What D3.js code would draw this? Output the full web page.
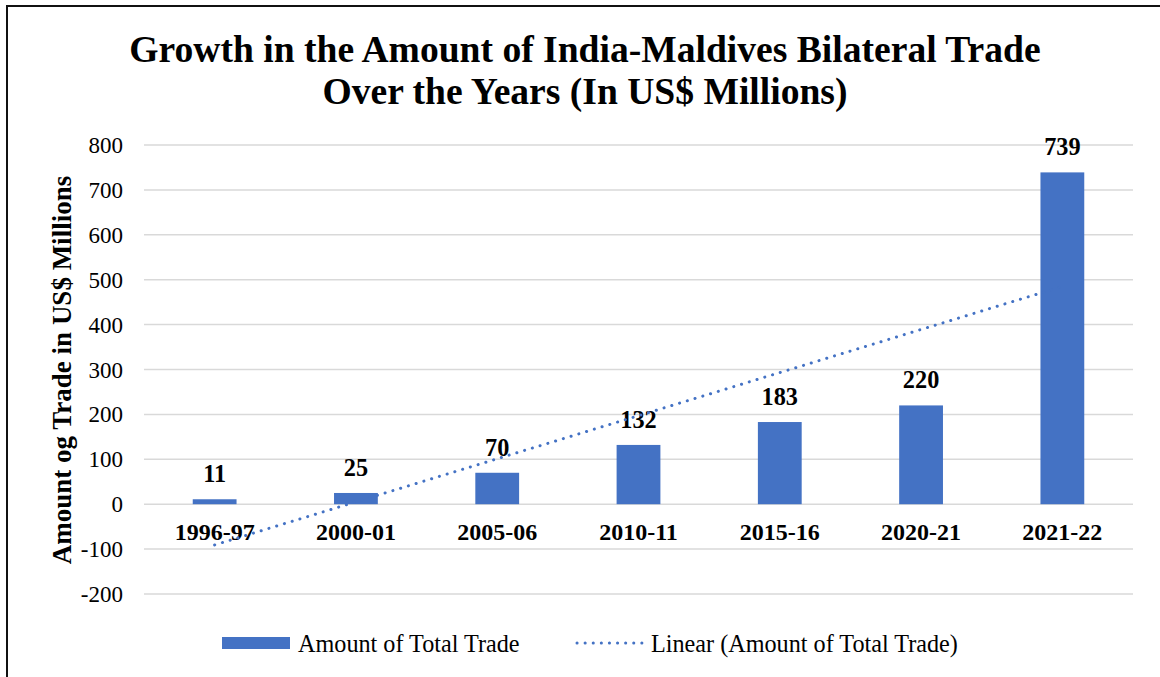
<!DOCTYPE html>
<html>
<head>
<meta charset="utf-8">
<script src="https://cdn.jsdelivr.net/npm/d3@7"></script>
<style>
  html, body { margin: 0; padding: 0; background: #fff; }
  svg { display: block; font-family: "Liberation Serif", "Times New Roman", serif; }
</style>
</head>
<body>
<svg id="chart" width="1160" height="677"></svg>
<script>
// Fiscal years and total India–Maldives trade (US$ millions)
const years = ["1996-97", "2000-01", "2005-06", "2010-11", "2015-16", "2020-21", "2021-22"];
const tradeValues = [11, 25, 70, 132, 183, 220, 739];
const yTicks = [-200, -100, 0, 100, 200, 300, 400, 500, 600, 700, 800];
const titleLines = ["Growth in the Amount of India-Maldives Bilateral Trade", "Over the Years (In US$ Millions)"];
const yAxisTitle = "Amount og Trade in US$ Millions";
const legendLabels = ["Amount of Total Trade", "Linear (Amount of Total Trade)"];

const BAR_COLOR = "#4472C4";
const svg = d3.select("#chart");

// Outer frame
svg.append("rect")
  .attr("x", 7).attr("y", 6).attr("width", 1200).attr("height", 700)
  .attr("fill", "none").attr("stroke", "#111").attr("stroke-width", 2);

const plot = { left: 144, right: 1133 };

const x = d3.scaleBand()
  .domain(years)
  .range([plot.left, plot.right])
  .paddingInner(0.69)
  .paddingOuter(0.345);

const y = d3.scaleLinear().domain([-200, 800]).range([594, 145]);

// Gridlines
svg.append("g")
  .selectAll("line")
  .data(yTicks)
  .join("line")
  .attr("x1", plot.left).attr("x2", plot.right)
  .attr("y1", d => y(d)).attr("y2", d => y(d))
  .attr("stroke", "#d9d9d9").attr("stroke-width", 1.5);

// Y tick labels
svg.append("g")
  .selectAll("text")
  .data(yTicks)
  .join("text")
  .attr("x", 123)
  .attr("y", d => y(d))
  .attr("dy", "0.35em")
  .attr("text-anchor", "end")
  .attr("font-size", 23)
  .attr("fill", "#000")
  .text(d => d);

// Bars
svg.append("g")
  .selectAll("rect")
  .data(years.map((yr, i) => ({ yr, v: tradeValues[i] })))
  .join("rect")
  .attr("x", d => x(d.yr))
  .attr("width", x.bandwidth())
  .attr("y", d => y(d.v))
  .attr("height", d => y(0) - y(d.v))
  .attr("fill", BAR_COLOR);

// Value labels
svg.append("g")
  .selectAll("text")
  .data(years.map((yr, i) => ({ yr, v: tradeValues[i] })))
  .join("text")
  .attr("x", d => x(d.yr) + x.bandwidth() / 2)
  .attr("y", d => y(d.v) - 17)
  .attr("text-anchor", "middle")
  .attr("font-size", 24.3)
  .attr("font-weight", "bold")
  .text(d => d.v);

// Category labels
svg.append("g")
  .selectAll("text")
  .data(years)
  .join("text")
  .attr("x", d => x(d) + x.bandwidth() / 2)
  .attr("y", 540)
  .attr("text-anchor", "middle")
  .attr("font-size", 24)
  .attr("font-weight", "bold")
  .text(d => d);

// Linear trendline (least squares over category index 1..n)
const n = tradeValues.length;
const idx = d3.range(1, n + 1);
const mx = d3.mean(idx), my = d3.mean(tradeValues);
const slope = d3.sum(idx, (k, i) => (k - mx) * (tradeValues[i] - my)) / d3.sum(idx, k => (k - mx) ** 2);
const intercept = my - slope * mx;
const trend = years.map((yr, i) => ({ yr, v: intercept + slope * (i + 1) }));
const first = trend[0], last = trend[n - 1];

svg.append("line")
  .attr("x1", x(first.yr) + x.bandwidth() / 2).attr("y1", y(first.v))
  .attr("x2", x(last.yr) + x.bandwidth() / 2).attr("y2", y(last.v))
  .attr("stroke", BAR_COLOR)
  .attr("stroke-width", 3)
  .attr("stroke-linecap", "round")
  .attr("stroke-dasharray", "0.1 8");

// Title
svg.append("g")
  .selectAll("text")
  .data(titleLines)
  .join("text")
  .attr("x", 585)
  .attr("y", (d, i) => 62 + i * 42)
  .attr("text-anchor", "middle")
  .attr("font-size", 37.6)
  .attr("font-weight", "bold")
  .text(d => d);

// Y axis title
svg.append("text")
  .attr("transform", "translate(71,370) rotate(-90)")
  .attr("text-anchor", "middle")
  .attr("font-size", 27)
  .attr("font-weight", "bold")
  .text(yAxisTitle);

// Legend
const legend = svg.append("g");
legend.append("rect")
  .attr("x", 222).attr("y", 637).attr("width", 68).attr("height", 12)
  .attr("fill", BAR_COLOR);
legend.append("text")
  .attr("x", 298).attr("y", 644).attr("dy", "0.35em")
  .attr("font-size", 24.2)
  .text(legendLabels[0]);
legend.append("line")
  .attr("x1", 577).attr("x2", 643).attr("y1", 643).attr("y2", 643)
  .attr("stroke", BAR_COLOR).attr("stroke-width", 3)
  .attr("stroke-linecap", "round").attr("stroke-dasharray", "0.1 8");
legend.append("text")
  .attr("x", 651).attr("y", 644).attr("dy", "0.35em")
  .attr("font-size", 24.2)
  .text(legendLabels[1]);
</script>
</body>
</html>
